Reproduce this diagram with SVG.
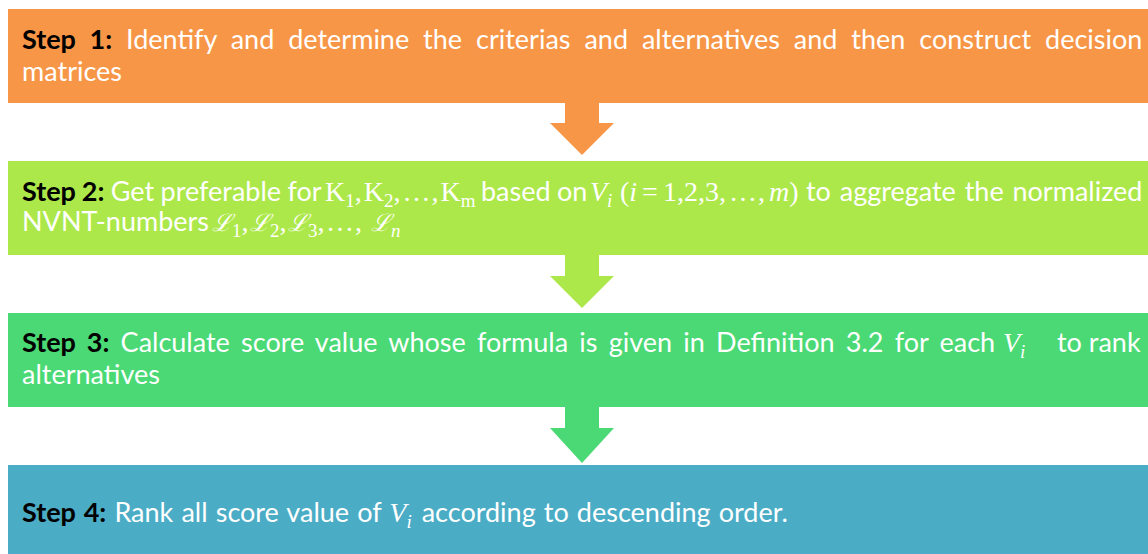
<svg xmlns="http://www.w3.org/2000/svg" width="1148" height="554" viewBox="0 0 1148 554">
<style>
.t{font-family:Lato,"Open Sans","Liberation Sans",sans-serif;font-size:27px;fill:#ffffff}
.b{font-weight:bold;fill:#000000}
.m{font-family:"Liberation Serif","DejaVu Serif",serif;font-style:italic;font-size:28px;fill:#ffffff}
.u{font-family:"Liberation Serif","DejaVu Serif",serif;font-style:normal;font-size:28px;fill:#ffffff}
.s{font-size:19px}
.L{font-family:"DejaVu Serif",serif;font-style:italic;font-size:24px;fill:#ffffff}
</style>
<rect width="1148" height="554" fill="#ffffff"/>
<g id="connectors">
<polygon points="565,103 599,103 599,123 614,123 582,155 550,123 565,123" fill="#f79646"/>
<polygon points="565,255 599,255 599,276 614,276 582,308 550,276 565,276" fill="#ade84a"/>
<polygon points="565,407 599,407 599,428 614,428 582,463 550,428 565,428" fill="#4ad975"/>
</g>
<g id="step1">
<rect x="8" y="9" width="1140" height="94" fill="#f79646"/>
<text class="t" x="22" y="49" word-spacing="7"><tspan class="b">Step 1:</tspan> Identify and determine the criterias and alternatives and then construct decision</text>
<text class="t" x="22" y="81">matrices</text>
</g>
<g id="step2">
<rect x="8" y="161" width="1140" height="94" fill="#ade84a"/>
<text class="t" x="22" y="201" word-spacing="-0.6"><tspan class="b">Step 2:</tspan> Get preferable for</text>
<text class="u" x="325" y="201">K<tspan class="s" dy="6">1</tspan><tspan dy="-6">,</tspan><tspan dx="2">K</tspan><tspan class="s" dy="6">2</tspan><tspan dy="-6">,</tspan><tspan dx="2">…</tspan><tspan dx="1">,</tspan><tspan dx="2">K</tspan><tspan class="s" dy="6">m</tspan></text>
<text class="t" x="481" y="201" word-spacing="-0.6">based on</text>
<text class="m" x="590" y="201">V<tspan class="s" dy="6">i</tspan></text>
<text class="u" x="620" y="201">(<tspan class="m">i</tspan><tspan dx="5">=</tspan><tspan dx="5">1,2,3,</tspan><tspan dx="3">…</tspan><tspan dx="1">,</tspan><tspan class="m" dx="4">m</tspan>)</text>
<text class="t" x="806" y="201" word-spacing="1.9">to aggregate the normalized</text>
<text class="t" x="22" y="231">NVNT-numbers</text>
<text class="L" y="231"><tspan x="212">ℒ</tspan><tspan class="u s" dy="6">1</tspan><tspan class="u" dy="-6">,</tspan><tspan x="250">ℒ</tspan><tspan class="u s" dy="6">2</tspan><tspan class="u" dy="-6">,</tspan><tspan x="288">ℒ</tspan><tspan class="u s" dy="6">3</tspan><tspan class="u" dy="-6">,</tspan><tspan class="u" x="326">…</tspan><tspan class="u" dx="1">,</tspan><tspan x="371">ℒ</tspan><tspan class="m s" dy="6">n</tspan></text>
</g>
<g id="step3">
<rect x="8" y="313" width="1140" height="94" fill="#4ad975"/>
<text class="t" x="22" y="352" word-spacing="4.3"><tspan class="b">Step 3:</tspan> Calculate score value whose formula is given in Definition 3.2 for each</text>
<text class="m" x="1003" y="352">V<tspan class="s" dy="6">i</tspan></text>
<text class="t" x="1057" y="352">to rank</text>
<text class="t" x="22" y="384">alternatives</text>
</g>
<g id="step4">
<rect x="8" y="465" width="1140" height="89" fill="#4bacc6"/>
<text class="t" x="22" y="522" word-spacing="1.2"><tspan class="b">Step 4:</tspan> Rank all score value of <tspan class="m">V<tspan class="s" dy="6">i</tspan></tspan><tspan dy="-6" dx="10">according to descending order.</tspan></text>
</g>
</svg>
